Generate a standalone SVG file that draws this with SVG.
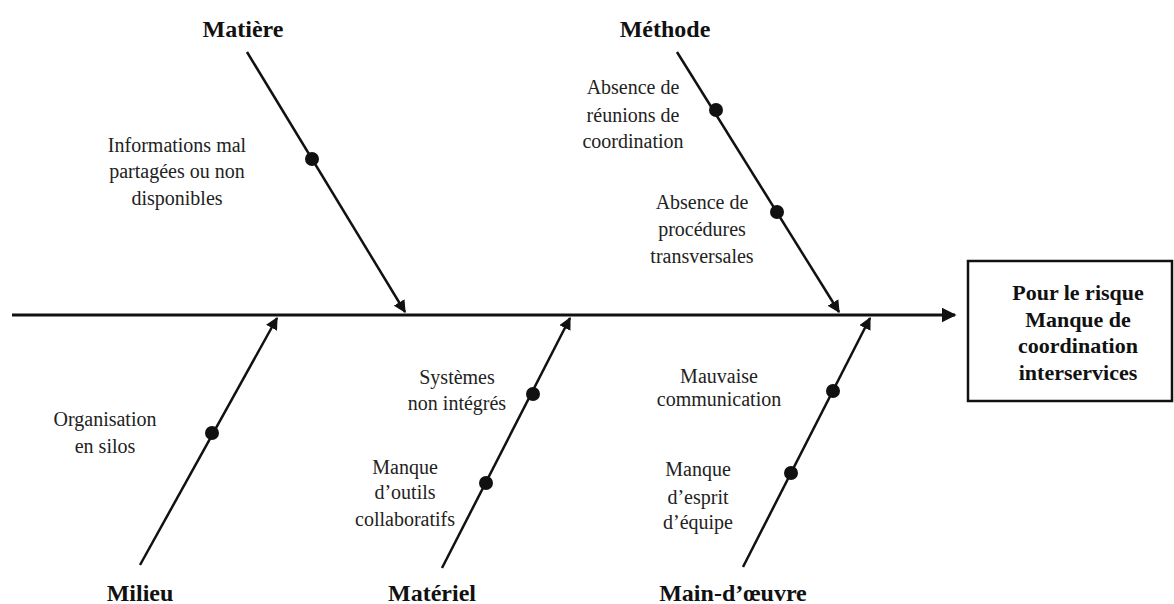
<svg xmlns="http://www.w3.org/2000/svg" width="1174" height="604" viewBox="0 0 1174 604">
  <style>
    .cat { font-family: "Liberation Serif", "Times New Roman", serif; font-weight: bold; font-size: 24px; fill: #111; text-anchor: middle; }
    .cause { font-family: "Liberation Serif", "Times New Roman", serif; font-size: 20px; fill: #222; text-anchor: middle; }
    .effect { font-family: "Liberation Serif", "Times New Roman", serif; font-weight: bold; font-size: 22px; fill: #111; text-anchor: middle; }
    .bone { stroke: #111; stroke-width: 2.5; fill: none; marker-end: url(#arrow); }
    .spine { stroke: #111; stroke-width: 3; fill: none; marker-end: url(#arrow); }
    .dot { fill: #111; }
  </style>
  <defs>
    <marker id="arrow" viewBox="0 0 10 10" refX="9" refY="5" markerWidth="5" markerHeight="5" orient="auto" markerUnits="strokeWidth">
      <path d="M0,0 L10,5 L0,10 z" fill="#111"/>
    </marker>
  </defs>

  <rect width="1174" height="604" fill="#fff"/>

  <!-- connectors: spine and bones -->
  <g id="connectors">
    <line class="spine" x1="12" y1="315" x2="955" y2="315"/>
    <line class="bone" x1="247" y1="52" x2="405" y2="312"/>
    <line class="bone" x1="677" y1="52" x2="839" y2="312"/>
    <line class="bone" x1="140" y1="565" x2="277" y2="318"/>
    <line class="bone" x1="442" y1="568" x2="570" y2="318"/>
    <line class="bone" x1="743" y1="567" x2="870" y2="318"/>
  </g>

  <!-- effect box -->
  <g id="effect">
    <rect x="968" y="261" width="204" height="140" fill="#fff" stroke="#111" stroke-width="2.5"/>
    <text class="effect" x="1078" y="300">Pour le risque</text>
    <text class="effect" x="1078" y="327">Manque de</text>
    <text class="effect" x="1078" y="353">coordination</text>
    <text class="effect" x="1078" y="380">interservices</text>
  </g>

  <!-- Matière -->
  <g id="matiere">
    <text class="cat" x="243" y="37">Matière</text>
    <circle class="dot" cx="312" cy="159" r="7"/>
    <text class="cause" x="177" y="152">Informations mal</text>
    <text class="cause" x="177" y="178">partagées ou non</text>
    <text class="cause" x="177" y="205">disponibles</text>
  </g>

  <!-- Méthode -->
  <g id="methode">
    <text class="cat" x="665" y="37">Méthode</text>
    <circle class="dot" cx="716" cy="110" r="7"/>
    <text class="cause" x="633" y="94">Absence de</text>
    <text class="cause" x="633" y="122">réunions de</text>
    <text class="cause" x="633" y="148">coordination</text>
    <circle class="dot" cx="777" cy="212" r="7"/>
    <text class="cause" x="702" y="209">Absence de</text>
    <text class="cause" x="702" y="236">procédures</text>
    <text class="cause" x="702" y="263">transversales</text>
  </g>

  <!-- Milieu -->
  <g id="milieu">
    <text class="cat" x="140" y="601">Milieu</text>
    <circle class="dot" cx="212" cy="433" r="7"/>
    <text class="cause" x="105" y="426">Organisation</text>
    <text class="cause" x="105" y="453">en silos</text>
  </g>

  <!-- Matériel -->
  <g id="materiel">
    <text class="cat" x="432" y="601">Matériel</text>
    <circle class="dot" cx="533" cy="394" r="7"/>
    <text class="cause" x="457" y="384">Systèmes</text>
    <text class="cause" x="457" y="410">non intégrés</text>
    <circle class="dot" cx="486" cy="483" r="7"/>
    <text class="cause" x="405" y="474">Manque</text>
    <text class="cause" x="405" y="499">d’outils</text>
    <text class="cause" x="405" y="526">collaboratifs</text>
  </g>

  <!-- Main-d'œuvre -->
  <g id="main-oeuvre">
    <text class="cat" x="733" y="601">Main-d’œuvre</text>
    <circle class="dot" cx="833" cy="391" r="7"/>
    <text class="cause" x="719" y="383">Mauvaise</text>
    <text class="cause" x="719" y="406">communication</text>
    <circle class="dot" cx="791" cy="473" r="7"/>
    <text class="cause" x="698" y="476">Manque</text>
    <text class="cause" x="698" y="504">d’esprit</text>
    <text class="cause" x="698" y="529">d’équipe</text>
  </g>
</svg>
